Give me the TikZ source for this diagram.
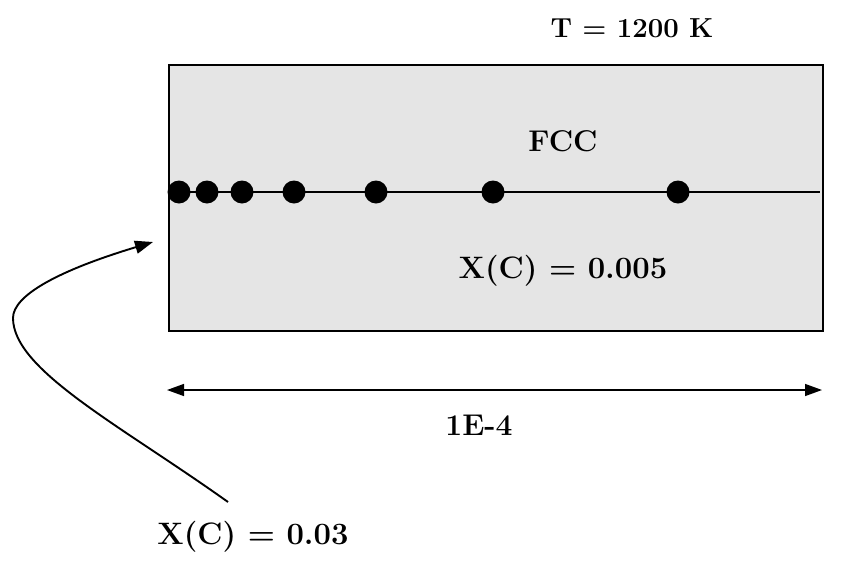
\documentclass[tikz,border=0pt]{standalone}
\usetikzlibrary{arrows.meta}
\definecolor{boxgray}{HTML}{E5E5E5}
\tikzset{
  lw/.style={line width=1.4pt},
  thick lw/.style={line width=1.9pt},
  dot/.style={circle, fill=black, inner sep=0pt, minimum size=23pt},
  bigtxt/.style={font=\fontsize{31}{37}\selectfont\bfseries, inner sep=0pt},
  midtxt/.style={font=\fontsize{27.5}{33}\selectfont\bfseries, inner sep=0pt},
  smalltxt/.style={font=\fontsize{30}{36}\selectfont\bfseries, inner sep=0pt},
}
\begin{document}
\begin{tikzpicture}[x=1pt,y=-1pt]
\useasboundingbox (0,0) rectangle (849,568);
\node[draw, lw, fill=boxgray, minimum width=654pt, minimum height=266pt, inner sep=0pt] (box) at (496,198) {};
\node[midtxt] (temp) at (632,28) {T = 1200 K};
\node[smalltxt] (fcc) at (563,141) {FCC};
\node[bigtxt] (xin) at (563,271) {X(C) = 0.005};
\node[smalltxt] (len) at (479,425) {1E-4};
\node[bigtxt] (xs) at (253,537) {X(C) = 0.03};
\coordinate (lineL) at (169,192);
\coordinate (lineR) at (820,192);
\draw[line width=1.2pt] (lineL) -- (lineR);
\foreach \i/\x in {1/179,2/207,3/242,4/294,5/376,6/493,7/678}
  \node[dot] (d\i) at (\x,192) {};
\coordinate (aL) at (167,390);
\coordinate (aR) at (822,390);
\draw[lw, {Triangle[length=17pt,width=12pt]}-{Triangle[length=17pt,width=12pt]}] (aL) -- (aR);
\coordinate (cs) at (228,502);
\coordinate (cm) at (13,318);
\coordinate (ce) at (153,242);
\draw[thick lw, -{Triangle[length=18pt,width=13pt]}] (cs) .. controls (120,425) and (13,370) .. (cm) .. controls (13,295) and (60,270) .. (ce);
\end{tikzpicture}
\end{document}
